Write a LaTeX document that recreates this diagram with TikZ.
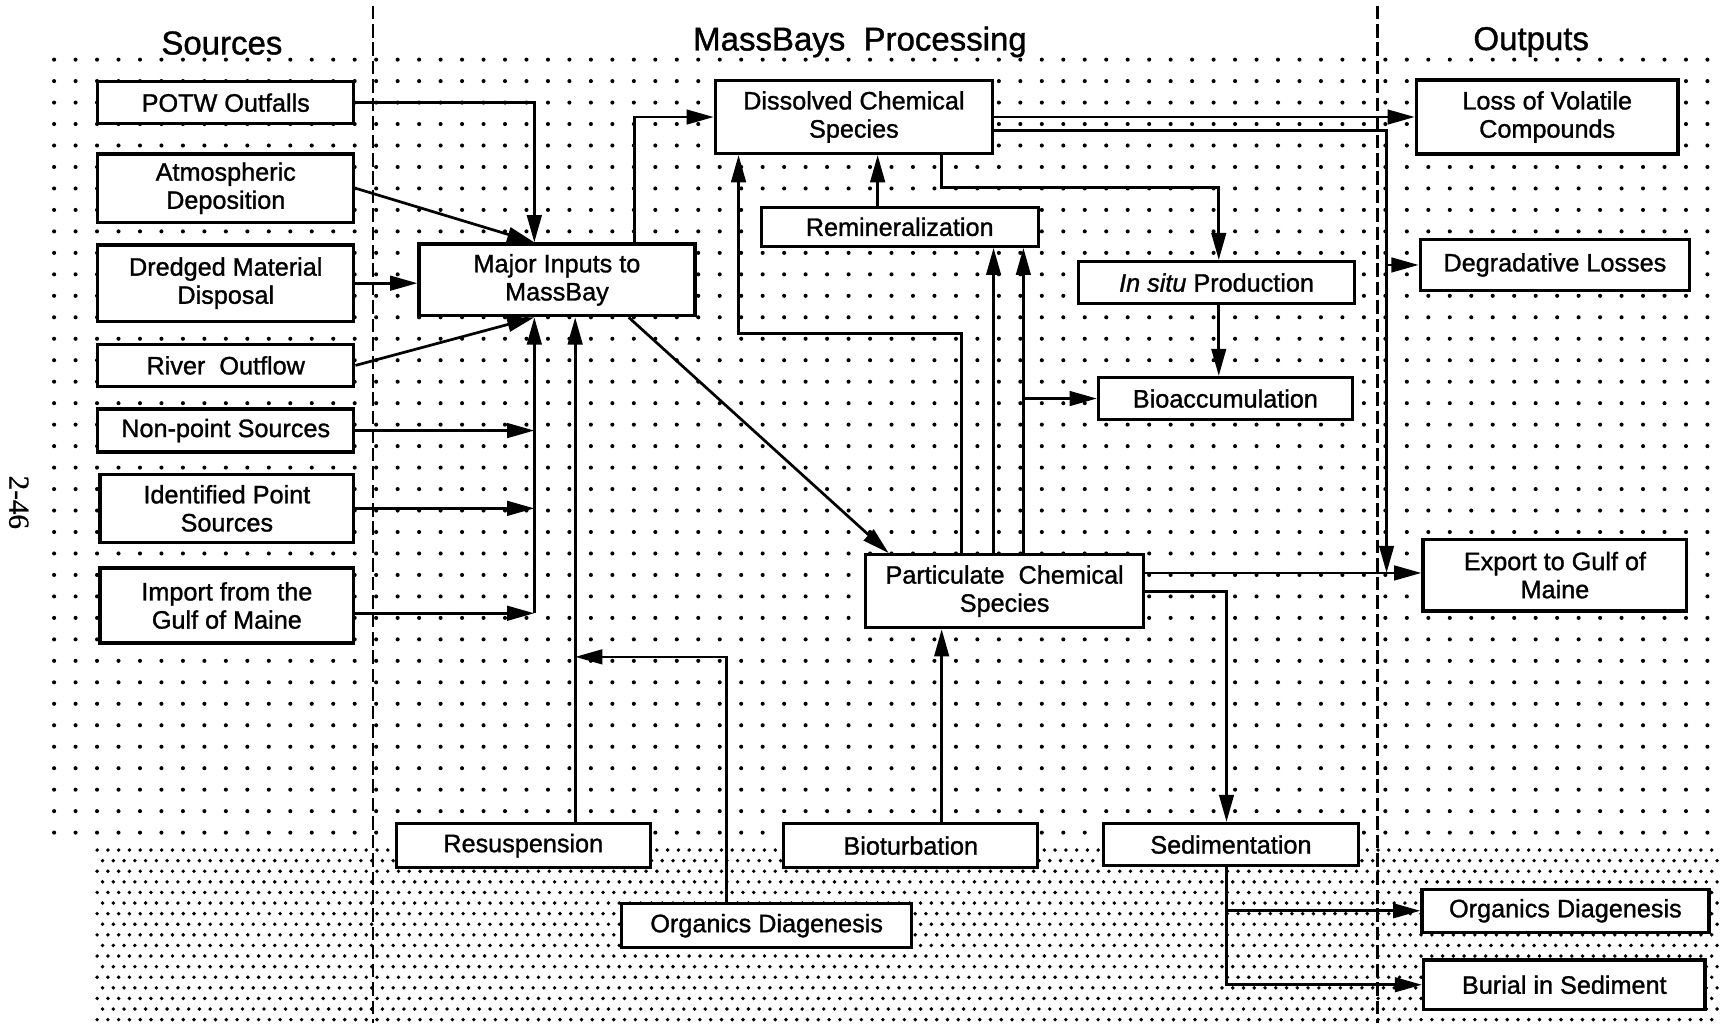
\documentclass[tikz,border=0pt]{standalone}
\usepackage{fontspec}
\setmainfont{Liberation Sans}[FakeBold=1.2]
\newfontfamily\pagefont{Liberation Serif}[FakeBold=0.8]
\usetikzlibrary{arrows.meta}

\begin{document}
\begin{tikzpicture}[x=0.02cm, y=-0.02cm,
					>={Triangle[length=14pt,width=7.5pt]},
					font=\fontsize{13}{14.5}\selectfont,
					box/.style={draw, fill=white, line width=1.7pt, align=center, inner sep=0pt},
					arr/.style={->, line width=1.4pt},
					head/.style={font=\fontsize{17}{20}\selectfont},
					divider/.style={line width=1.4pt, dash pattern=on 7pt off 2.5pt}]

  \useasboundingbox (0,0) rectangle (1568,927);

  % dotted background
  \foreach \i in {0,...,77}
    \foreach \j in {0,...,36}
      \fill ({49+19.45*\i},{54+19.45*\j}) circle (1.05pt);
  \foreach \j in {0,...,16}
    \foreach \i in {0,...,150}
      \fill ({88+9.75*\i+4.9*mod(\j,2)},{770+9.6*\j}) circle (1pt);

  \draw[divider] (338,5) -- (338,927);
  \draw[divider] (1248,5) -- (1248,927);

  \node[head] (hsrc) at (201,39) {Sources};
  \node[head] (hproc) at (779,38) {MassBays\ \ Processing};
  \node[head] (hout) at (1387,38) {Outputs};
  \node[rotate=-90, font=\pagefont\fontsize{15}{18}\selectfont] (pagenum) at (17,455) {2-46};

  % sources
  \node[box, minimum width=4.64cm, minimum height=0.76cm] (potw) at (204.5,93) {POTW Outfalls};
  \node[box, minimum width=4.64cm, minimum height=1.24cm] (atmos) at (204.5,170.5) {Atmospheric\\Deposition};
  \node[box, minimum width=4.64cm, minimum height=1.38cm] (dredged) at (204.5,256.5) {Dredged Material\\Disposal};
  \node[box, minimum width=4.64cm, minimum height=0.76cm] (river) at (204.5,331) {River\ \ Outflow};
  \node[box, minimum width=4.64cm, minimum height=0.78cm] (nonpoint) at (204.5,390) {Non-point Sources};
  \node[box, minimum width=4.6cm, minimum height=1.24cm] (identified) at (205.5,460.5) {Identified Point\\Sources};
  \node[box, minimum width=4.6cm, minimum height=1.36cm] (import) at (205.5,548.5) {Import from the\\Gulf of Maine};

  % processing
  \node[box, minimum width=5cm, minimum height=1.3cm] (major) at (504.5,253.5) {Major Inputs to\\MassBay};
  \node[box, minimum width=5.02cm, minimum height=1.32cm] (dissolved) at (773.5,106) {Dissolved Chemical\\Species};
  \node[box, minimum width=5.02cm, minimum height=0.7cm] (remin) at (815,205.5) {Remineralization};
  \node[box, minimum width=5cm, minimum height=0.76cm] (insitu) at (1102,256) {\textit{In situ} Production};
  \node[box, minimum width=4.6cm, minimum height=0.76cm] (bioacc) at (1110,361) {Bioaccumulation};
  \node[box, minimum width=5.04cm, minimum height=1.32cm] (partic) at (910,535.5) {Particulate\ \ Chemical\\Species};
  \node[box, minimum width=4.6cm, minimum height=0.8cm] (resusp) at (474,766) {Resuspension};
  \node[box, minimum width=4.6cm, minimum height=0.8cm] (biotur) at (825,766) {Bioturbation};
  \node[box, minimum width=4.62cm, minimum height=0.76cm] (sedim) at (1115,765) {Sedimentation};
  \node[box, minimum width=5.26cm, minimum height=0.8cm] (orgmid) at (694.5,838.5) {Organics Diagenesis};

  % outputs
  \node[box, minimum width=4.74cm, minimum height=1.34cm] (volatile) at (1401.5,106) {Loss of Volatile\\Compounds};
  \node[box, minimum width=4.88cm, minimum height=0.92cm] (degrad) at (1408.5,240) {Degradative Losses};
  \node[box, minimum width=4.78cm, minimum height=1.3cm] (export) at (1408.5,521) {Export to Gulf of\\Maine};
  \node[box, minimum width=5.2cm, minimum height=0.78cm] (orgout) at (1418,825) {Organics Diagenesis};
  \node[box, minimum width=5.1cm, minimum height=0.9cm] (burial) at (1417,892) {Burial in Sediment};

  % lanes
  \coordinate (lnA) at (484,0);
  \coordinate (lnB) at (521,0);
  \coordinate (lnC) at (575,0);
  \coordinate (lnD) at (658,0);
  \coordinate (lnE) at (669,0);
  \coordinate (lnF) at (795,0);
  \coordinate (lnG) at (853,0);
  \coordinate (lnH) at (871,0);
  \coordinate (lnI) at (900,0);
  \coordinate (lnJ) at (927,0);
  \coordinate (lnK) at (1104,0);
  \coordinate (lnL) at (1111,0);
  \coordinate (lnM) at (1256,0);
  \coordinate (lvA) at (0,595);
  \coordinate (lvB) at (0,302);
  \coordinate (lvC) at (0,170);
  \coordinate (lvD) at (0,118);
  \coordinate (lvE) at (0,519);

  \draw[arr] (potw.east) -| (major.north -| lnA);
  \draw[arr] (atmos.east) -- (major.north -| lnA);
  \draw[arr] (dredged.east) -- (dredged.east -| major.west);
  \draw[arr] (river.east) -- (major.south -| lnA);
  \foreach \src in {nonpoint,identified}
    \draw[arr] (\src.east) -- (\src.east -| lnA);
  \draw[arr] ([yshift=-0.14cm]import.east) -- ([yshift=-0.14cm]import.east -| lnA);
  \draw[arr] ([yshift=-0.14cm]import.east -| lnA) -- (major.south -| lnA);
  \draw[arr] (resusp.north -| lnB) -- (major.south -| lnB);
  \draw[arr] (orgmid.north -| lnD) |- (lvA -| lnB);
  \draw[arr] (major.north -| lnC) |- (dissolved.west);
  \draw[arr] ([xshift=1.3cm]major.south) -- ([xshift=-2.1cm]partic.north);
  \draw[arr] (remin.north -| lnF) -- (dissolved.south -| lnF);
  \draw[arr] (dissolved.south -| lnG) |- (lvC -| lnK) -- (insitu.north -| lnK);
  \draw[arr] (insitu.south -| lnK) -- (bioacc.north -| lnK);
  \draw[arr] (partic.north -| lnH) |- (lvB -| lnE) -- (dissolved.south -| lnE);
  \draw[arr] (partic.north -| lnI) -- (remin.south -| lnI);
  \draw[arr] (partic.north -| lnJ) -- (remin.south -| lnJ);
  \draw[arr] (bioacc.west -| lnJ) -- (bioacc.west);
  \draw[arr] (biotur.north -| lnG) -- (partic.south -| lnG);
  \draw[arr] (dissolved.east) -- (volatile.west);
  \draw[arr] (dissolved.east |- lvD) -| (lvE -| lnM);
  \draw[arr] (degrad.west -| lnM) -- (degrad.west);
  \draw[arr] (partic.east |- lvE) -- (export.west |- lvE);
  \draw[arr] (partic.east) -| (sedim.north -| lnL);
  \draw[arr] (sedim.south -| lnL) |- (burial.west);
  \draw[arr] (orgout.west -| lnL) -- (orgout.west);
\end{tikzpicture}
\end{document}
